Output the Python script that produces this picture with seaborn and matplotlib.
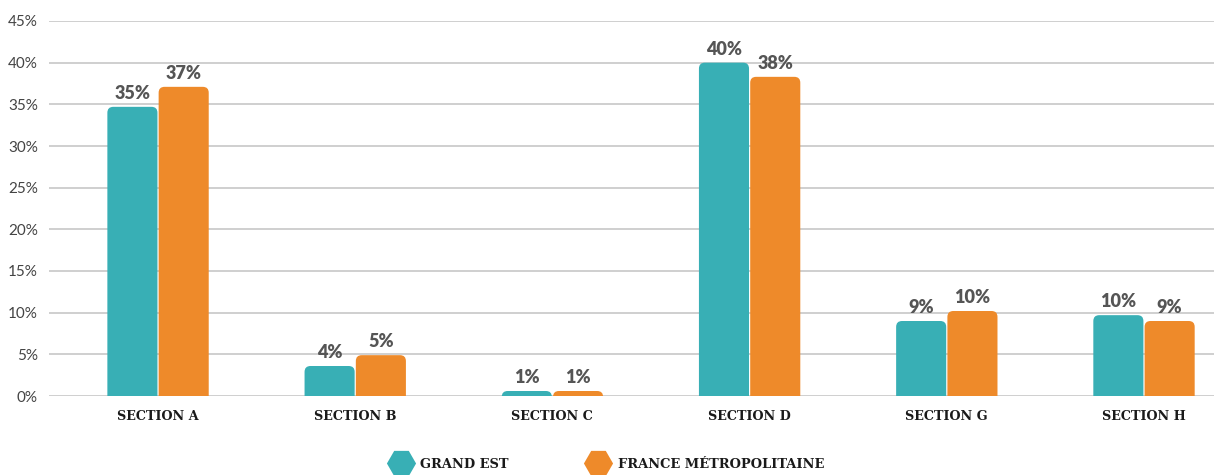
import matplotlib
matplotlib.use("Agg")
import matplotlib.pyplot as plt
import seaborn as sns
import pandas as pd
from matplotlib.lines import Line2D
from matplotlib.patches import FancyBboxPatch

categories = ["SECTION A", "SECTION B", "SECTION C", "SECTION D", "SECTION G", "SECTION H"]
grand_est = [34.7, 3.6, 0.6, 40.0, 9.0, 9.7]
france_metro = [37.1, 4.9, 0.6, 38.3, 10.2, 9.0]
series_names = ["GRAND EST", "FRANCE MÉTROPOLITAINE"]
colors = ["#38AFB5", "#EE8A2A"]
yticks = [0, 5, 10, 15, 20, 25, 30, 35, 40, 45]

df = pd.DataFrame({
    "cat": categories * 2,
    "serie": [series_names[0]] * len(categories) + [series_names[1]] * len(categories),
    "val": grand_est + france_metro,
})

sns.set_theme(style="white")
plt.rcParams['font.family'] = ['Lato', 'DejaVu Sans']

fig = plt.figure(figsize=(12.14, 4.75), dpi=100)
ax = fig.add_axes([49 / 1214, 79 / 475, 1 - 49 / 1214, 375 / 475])

sns.barplot(data=df, x="cat", y="val", hue="serie", order=categories,
            hue_order=series_names, palette=colors, width=0.52, gap=0,
            saturation=1, ax=ax, legend=False, edgecolor="none")

# rounded top corners (bottom corners hidden below the axis)
for p in list(ax.patches):
    x0, y0 = p.get_x(), p.get_y()
    w, h = p.get_width(), p.get_height()
    fc = p.get_facecolor()
    p.set_visible(False)
    rb = FancyBboxPatch((x0 + 0.003, y0 - 3), w - 0.006, h + 3,
                        boxstyle="round,pad=0,rounding_size=0.03",
                        mutation_aspect=45 / 375 * 197,
                        facecolor=fc, edgecolor="none", zorder=3)
    ax.add_patch(rb)
    ax.annotate(f"{round(h):.0f}%", (x0 + w / 2, h), xytext=(0, 3.5),
                textcoords="offset points", ha="center", va="bottom",
                fontsize=13, fontweight="heavy", color="#555555",
                family=["Lato", "DejaVu Sans"])

ax.set_ylim(0, 45)
ax.set_xlim(-0.553, 5.355)
ax.set_yticks(yticks)
ax.set_yticklabels([f"{t}%" for t in yticks], fontsize=11, color="#444444")
ax.yaxis.grid(True, color="#cccccc", linewidth=1.3, zorder=0)
ax.set_axisbelow(True)
for s in ax.spines.values():
    s.set_visible(False)
ax.tick_params(axis="y", length=0, pad=8)
ax.tick_params(axis="x", length=0, pad=10)
ax.set_xticks(range(len(categories)))
ax.set_xticklabels(categories, fontsize=9.2, fontweight="bold", color="#1a1a1a",
                   family=["DejaVu Serif"])
ax.set_xlabel("")
ax.set_ylabel("")

handles = [Line2D([0], [0], marker="H", linestyle="none", markersize=21,
                  markerfacecolor=c, markeredgecolor="none") for c in colors]
fig.legend(handles, series_names, loc="center", ncol=2,
           bbox_to_anchor=(607 / 1214, 1 - 464 / 475), frameon=False,
           prop={"family": "DejaVu Serif", "weight": "bold", "size": 9.4},
           labelcolor="#1a1a1a", columnspacing=6.0, handletextpad=0.72,
           handlelength=1.6, borderpad=0)

fig.savefig("out.png", dpi=100)
